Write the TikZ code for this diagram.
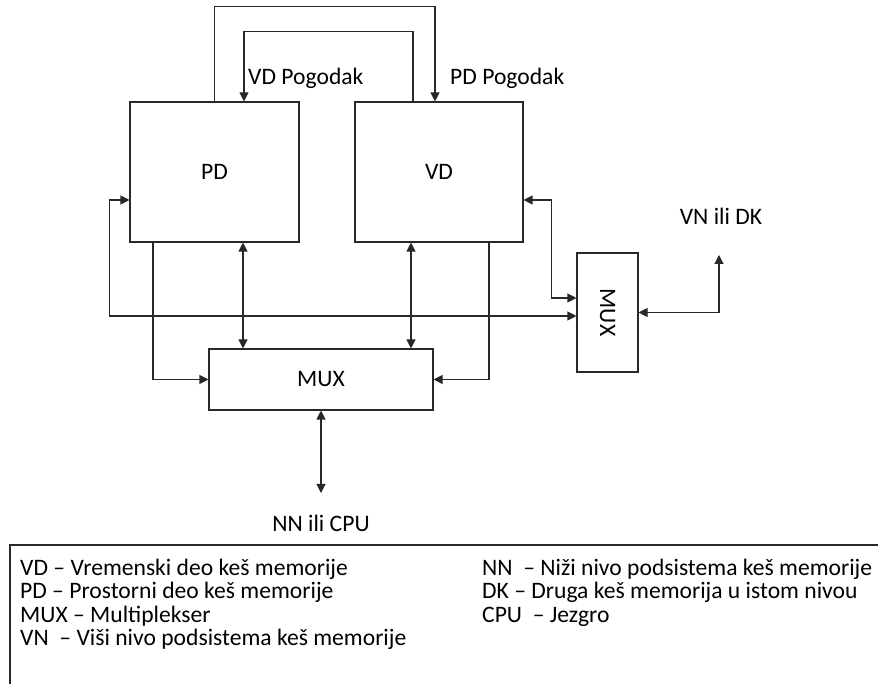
\documentclass[tikz,border=0pt]{standalone}
\usepackage{fontspec}
\setmainfont{Carlito}
\usepackage{tikz}
\usetikzlibrary{arrows.meta,positioning}
\definecolor{LineGray}{RGB}{40,40,40}

\begin{document}
\begin{tikzpicture}[x=1pt,y=1pt,
        blk/.style={draw=LineGray,line width=1.1pt,fill=white,
                    font=\fontsize{23.6}{24}\selectfont,inner sep=0pt},
        arr/.style={-{Triangle[length=9pt,width=9pt]},line width=1.1pt,color=LineGray},
        dbl/.style={{Triangle[length=9pt,width=9pt]}-{Triangle[length=9pt,width=9pt]},
                    line width=1.1pt,color=LineGray},
        lbl/.style={font=\fontsize{23.6}{24}\selectfont,inner sep=0pt},
        leg/.style={font=\fontsize{23.6}{24}\selectfont,inner sep=0pt,anchor=base west}
      ]
        \useasboundingbox (0,0) rectangle (878,684);
        % blocks
        \node[blk,minimum width=169pt,minimum height=140pt] (pd) at (214.5,512) {PD};
        \node[blk,minimum width=168pt,minimum height=140pt] (vd) at (439,512) {VD};
        \node[blk,minimum width=224pt,minimum height=61pt] (mux) at (321,304.5) {MUX};
        \node[blk,minimum width=61pt,minimum height=119pt] (muxr) at (607.5,371.5) {};
        \node[lbl,rotate=-90] (muxrtxt) at (muxr.center) {MUX};
        % free ends
        \coordinate (cpu) at (321,191);
        \coordinate (vnk) at (719,429);
        % hit loops
        \draw[arr] (pd.north) -- ++(0,95) -| ([xshift=-4pt]vd.north);
        \draw[arr] ([xshift=-26pt]vd.north) -- ++(0,70) -| ([xshift=29.5pt]pd.north);
        % to lower mux
        \draw[dbl] ([xshift=28.5pt]pd.south) -- ([xshift=28.5pt]pd.south |- mux.north);
        \draw[dbl] ([xshift=-28pt]vd.south) -- ([xshift=-28pt]vd.south |- mux.north);
        \draw[arr] ([xshift=-61.5pt]pd.south) |- (mux.west);
        \draw[arr] ([xshift=50pt]vd.south) |- (mux.east);
        \draw[dbl] (mux.south) -- (cpu);
        % to right mux
        \draw[dbl] ([yshift=-28pt]pd.west) -- ++(-20,0) |- ([yshift=-3.5pt]muxr.west);
        \draw[dbl] ([yshift=-28pt]vd.east) -- ++(28,0) |- ([yshift=14.5pt]muxr.west);
        \draw[dbl] (muxr.east) -| (vnk);
        % labels
        \node[lbl,anchor=west] (vdhit) at (248,606) {VD Pogodak};
        \node[lbl,anchor=west] (pdhit) at (450,606) {PD Pogodak};
        \node[lbl] (vndk) at (721,468) {VN ili DK};
        \node[lbl] (nncpu) at (321,161) {NN ili CPU};
        % legend
        \draw[LineGray,line width=1.1pt] (878,139) -| (10,0);
        \node[leg] (l1) at (20,108.5) {VD – Vremenski deo keš memorije};
        \node[leg] (l2) at (20,85) {PD – Prostorni deo keš memorije};
        \node[leg] (l3) at (20,61.5) {MUX – Multiplekser};
        \node[leg] (l4) at (20,38) {VN~ – Viši nivo podsistema keš memorije};
        \node[leg] (r1) at (482,108.5) {NN~ – Niži nivo podsistema keš memorije};
        \node[leg] (r2) at (482,85) {DK – Druga keš memorija u istom nivou};
        \node[leg] (r3) at (482,61.5) {CPU~ – Jezgro};
      \end{tikzpicture}
\end{document}
